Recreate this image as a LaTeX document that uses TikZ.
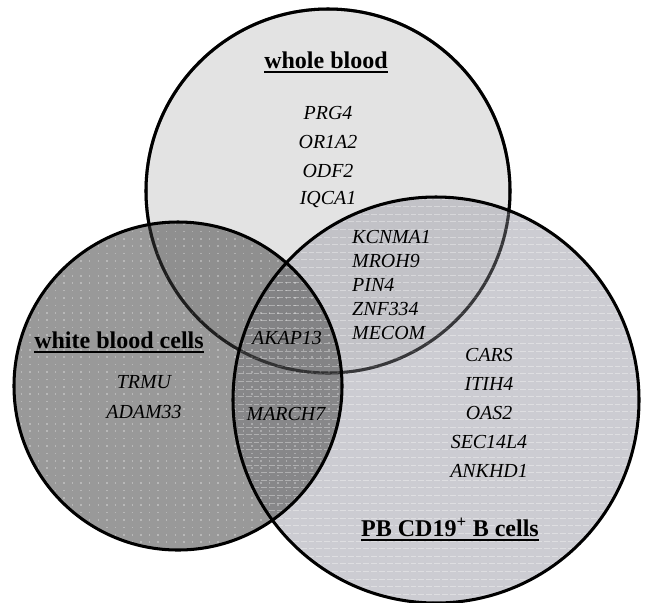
\documentclass[tikz,border=0pt]{standalone}
\usepackage{fontspec}
\setmainfont{Liberation Serif}

\definecolor{wbfill}{gray}{0.89}
\definecolor{wbcfill}{gray}{0.375}
\definecolor{pbfill}{rgb}{0.69,0.69,0.72}

\begin{document}
\begin{tikzpicture}[x=0.03cm,y=-0.03cm]

  \tikzset{
    gene/.style={font=\fontsize{17}{20}\selectfont\itshape, inner sep=0pt},
    settitle/.style={font=\fontsize{20.5}{24}\selectfont\bfseries, inner sep=0pt},
    ring/.style={line width=2.6pt, draw=black},
    ulline/.style={line width=1.6pt},
  }

  \useasboundingbox (0,0) rectangle (646,602);

  \coordinate (cwb) at (328,191);
  \coordinate (cwbc) at (178,386);
  \coordinate (cpb) at (436,400);

  % circles
  \fill[wbfill] (cwb) circle[radius=182];
  \draw[ring] (cwb) circle[radius=182];
  \fill[pbfill, fill opacity=0.64] (cpb) circle[radius=203];
  \fill[wbcfill, fill opacity=0.64] (cwbc) circle[radius=164];

  % texture
  \begin{scope}
    \clip (cpb) circle[radius=203];
    \foreach \i in {0,...,54}
      \draw[white, opacity=0.35, line width=0.8pt, dash pattern=on 5pt off 1.7pt]
        (230,199+7.6*\i) -- (645,199+7.6*\i);
  \end{scope}
  \begin{scope}
    \clip (cwbc) circle[radius=164];
    \foreach \i in {0,...,45}
      \draw[white, opacity=0.3, line width=1.3pt, dash pattern=on 1.3pt off 6pt]
        (12,224+7.4*\i) -- (345,224+7.4*\i);
  \end{scope}

  \draw[ring, draw opacity=0.5] (cwb) circle[radius=182];
  \draw[ring] (cpb) circle[radius=203];
  \draw[ring] (cwbc) circle[radius=164];

  % set names
  \node[settitle] (wbtitle) at (326,60) {whole blood};
  \node[settitle] (wbctitle) at (119,340) {white blood cells};
  \node[settitle] (pbtitle) at (450,527) {PB CD19\textsuperscript{+} B cells};
  \foreach \t in {wbtitle,wbctitle,pbtitle}
    \draw[ulline] ([yshift=-3pt]\t.base west) -- ([yshift=-3pt]\t.base east);

  % genes
  \foreach \g [count=\i] in {PRG4,OR1A2,ODF2,IQCA1}
    \node[gene] (wb\i) at (328,84+29*\i) {\g};
  \foreach \g [count=\i] in {KCNMA1,MROH9,PIN4,ZNF334,MECOM}
    \node[gene, anchor=west] (wbpb\i) at (352,213+24*\i) {\g};
  \foreach \g [count=\i] in {CARS,ITIH4,OAS2,SEC14L4,ANKHD1}
    \node[gene] (pb\i) at (489,326+29*\i) {\g};
  \foreach \g [count=\i] in {TRMU,ADAM33}
    \node[gene] (wbc\i) at (144,352+30*\i) {\g};
  \node[gene] (all) at (287,338) {AKAP13};
  \node[gene] (wbcpb) at (286,414) {MARCH7};

\end{tikzpicture}
\end{document}
